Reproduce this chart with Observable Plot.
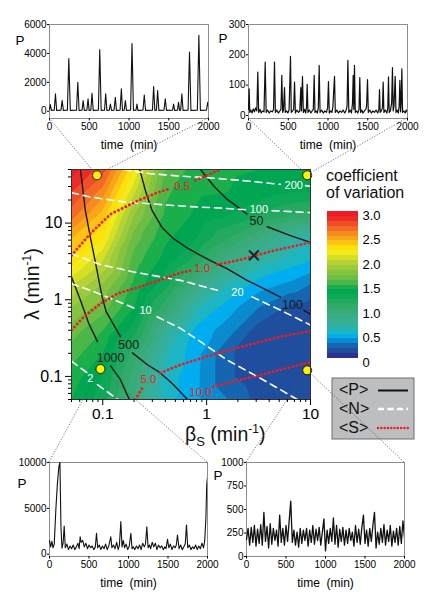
<!DOCTYPE html>
<html><head><meta charset="utf-8">
<script src="https://cdn.jsdelivr.net/npm/d3@7"></script>
<script src="https://cdn.jsdelivr.net/npm/@observablehq/plot@0.6"></script>
<style>
html,body{margin:0;padding:0;background:#fff;}
#page{position:relative;width:436px;height:611px;overflow:hidden;font-family:"Liberation Sans",Arial,sans-serif;}
</style></head><body><div id="page"></div>
<script>
// ---------- DATA ----------
// CV grid (rows: lambda, top to bottom; columns: beta_s)
const betaGrid = [0.05, 0.1, 0.2, 0.4, 0.8, 1.6, 3.2, 6.3, 10];
const lambdaGrid = [50, 25, 12.6, 6.3, 3.2, 1.6, 0.8, 0.4, 0.2, 0.1, 0.05];
const cvRows = [
  [2.95, 2.75, 2.2, 1.6, 1.45, 1.42, 1.4, 1.4, 1.4],
  [2.8, 2.55, 2.02, 1.52, 1.42, 1.4, 1.35, 1.3, 1.3],
  [2.65, 2.35, 1.8, 1.48, 1.38, 1.3, 1.2, 1.1, 1.05],
  [2.4, 2.2, 1.65, 1.42, 1.3, 1.1, 0.9, 0.7, 0.6],
  [2.25, 2.0, 1.55, 1.36, 1.15, 0.85, 0.68, 0.55, 0.5],
  [2.02, 1.8, 1.48, 1.25, 0.9, 0.62, 0.45, 0.38, 0.3],
  [1.8, 1.65, 1.4, 1.05, 0.62, 0.45, 0.3, 0.18, 0.15],
  [1.65, 1.5, 1.25, 0.75, 0.47, 0.35, 0.15, 0.12, 0.12],
  [1.55, 1.4, 1.05, 0.62, 0.43, 0.22, 0.12, 0.12, 0.12],
  [1.45, 1.3, 0.95, 0.56, 0.42, 0.22, 0.13, 0.12, 0.12],
  [1.4, 1.25, 0.9, 0.55, 0.42, 0.3, 0.16, 0.14, 0.14]
];
const cvThresholds = d3.range(0, 30).map(i => i / 10);
const bandColors = ["#2e3192","#1f4e9f","#1565b0","#0a8bd0","#00aeef","#1cb5c4","#2eb2a8","#37af95","#3aad86","#38ab78",
  "#31aa6a","#23a960","#0ea859","#00a651","#1aaf4b","#4cb748","#6dbd45","#86c440","#9ccb3b","#b5d334",
  "#d4df26","#f2ea1c","#ffe00a","#fcc214","#f9a51b","#f68b1f","#f26a25","#f04e2a","#ee2a26","#ed1c24"];
const cvTicks = [0, 0.5, 1, 1.5, 2, 2.5, 3];

// <P> isolines (segments of [beta, lambda])
const P1000 = [[[0.05,1.98],[0.061,0.986],[0.0733,0.491],[0.089,0.284]],[[0.119,0.137],[0.148,0.0906],[0.18,0.05]]];
const P500 = [[[0.061,50],[0.068,14.5],[0.076,6.52],[0.088,2.41],[0.0986,1.09],[0.108,0.695],[0.128,0.468],[0.148,0.33]],
              [[0.193,0.203],[0.269,0.142],[0.359,0.111],[0.48,0.078],[0.653,0.05]]];
const P100 = [[[0.227,50],[0.258,26.2],[0.299,14.5],[0.372,8.79],[0.483,6.21],[0.649,4.74],[0.873,3.78],[1.09,3.25],[1.57,2.54],[2.45,1.79],[3.83,1.33],[5.14,1.08]],
              [[8.63,0.731],[10,0.643]]];
const P50 = [[[0.873,50],[1.17,30.5],[1.57,20.5],[2.12,15.2],[2.45,13.1]],[[3.83,8.96],[6.41,6.85],[10,5.61]]];
// <N> isolines
const N200 = [[[0.159,50],[0.288,44.1],[0.56,41.0],[1.01,39.1],[2.12,36.1],[5.14,32.0]],[[8.96,30.8],[10,30.2]]];
const N100 = [[[0.05,24.9],[0.076,21.9],[0.159,18.9],[0.333,17.6],[0.698,16.4],[1.46,15.6],[2.37,14.9]],[[4.27,14.5],[10,13.7]]];
const N20 = [[[0.05,3.96],[0.095,2.88],[0.199,2.3],[0.56,1.79],[1.27,1.33]],[[2.74,1.09],[5.14,0.731],[10,0.468]]];
const N10 = [[[0.05,1.62],[0.076,1.33],[0.128,1.0],[0.199,0.783]],
             [[0.333,0.6],[0.56,0.423],[0.873,0.284],[1.57,0.164],[3.06,0.1],[5.14,0.0671],[7.45,0.05]]];
const N2 = [[[0.05,0.158],[0.0711,0.111]],[[0.089,0.078],[0.14,0.05]]];
// <S> isolines
const S05 = [[[0.05,3.78],[0.076,7.28],[0.119,13.1],[0.216,19.5],[0.333,24.9],[0.449,28.5]],[[0.78,36.1],[1.36,50]]];
const S10 = [[[0.05,0.403],[0.0652,0.593],[0.095,0.891],[0.138,1.2],[0.216,1.45],[0.333,1.75],[0.56,2.25],[0.724,2.41]],
             [[1.26,2.88],[2.12,3.32],[2.96,3.78],[4.44,4.38],[6.9,4.99],[10,5.61]]];
const S50 = [[[0.207,0.05],[0.241,0.0713]],[[0.359,0.111],[0.56,0.142],[1.01,0.182],[1.83,0.229],[3.06,0.276],[5.14,0.33],[10,0.391]]];
const S100 = [[[1.16,0.0734],[2.12,0.0906],[3.83,0.11],[6.41,0.132],[10,0.155]]];

const pLabels = [{beta:0.119,lambda:0.173,text:"1000"},{beta:0.178,lambda:0.257,text:"500"},{beta:6.71,lambda:0.849,text:"100"},{beta:3.02,lambda:10.6,text:"50"}];
const nLabels = [{beta:6.9,lambda:31.4,text:"200"},{beta:3.18,lambda:15.0,text:"100"},{beta:1.98,lambda:1.23,text:"20"},{beta:0.258,lambda:0.716,text:"10"},{beta:0.076,lambda:0.0933,text:"2"}];
const sLabels = [{beta:0.581,lambda:30.5,text:"0.5"},{beta:0.906,lambda:2.56,text:"1.0"},{beta:0.275,lambda:0.0906,text:"5.0"},{beta:0.873,lambda:0.0614,text:"10.0"}];

const samplePoints = [[0.088,42],[9.3,42],[0.095,0.125],[9.3,0.12]];
const crossPoint = [[2.85,3.8]];

const xMajor = [0.1, 1, 10];
const xMinor = [0.05,0.06,0.07,0.08,0.09,0.2,0.3,0.4,0.5,0.6,0.7,0.8,0.9,2,3,4,5,6,7,8,9];
const yMajor = [0.1, 1, 10];
const yMinor = [0.05,0.06,0.07,0.08,0.09,0.2,0.3,0.4,0.5,0.6,0.7,0.8,0.9,2,3,4,5,6,7,8,9,20,30,40,50];

// time series insets: [time (min), P]
const timeTicks = [0, 500, 1000, 1500, 2000];
const seriesTL = [[0,100],[10,460],[25,60],[60,80],[75,1200],[90,60],[145,80],[159,740],[175,60],[225,80],[243,3640],[262,60],[340,80],[356,2000],[372,60],[410,80],[423,740],[438,60],[470,80],[485,860],[498,60],[520,80],[535,1250],[550,60],[615,80],[632,4260],[650,60],[692,80],[707,1200],[722,60],[752,80],[766,500],[780,60],[812,80],[828,970],[842,60],[888,80],[904,1550],[918,60],[940,80],[954,740],[968,60],[1020,80],[1038,4680],[1056,60],[1088,80],[1100,500],[1112,60],[1176,80],[1192,1130],[1208,60],[1295,80],[1310,1710],[1325,60],[1345,80],[1360,1440],[1376,60],[1440,80],[1456,860],[1472,60],[1548,80],[1561,500],[1574,60],[1610,80],[1623,625],[1636,60],[1650,80],[1665,1200],[1680,60],[1743,80],[1761,4100],[1779,60],[1860,80],[1879,5260],[1898,60],[1975,80],[1990,625],[2000,300]];
const seriesTR = [[0,20],[8,88],[16,10],[30,18],[45,8],[60,22],[75,12],[90,25],[105,15],[117,143],[128,10],[145,20],[160,8],[175,15],[195,12],[210,176],[222,10],[240,18],[260,8],[280,15],[300,12],[315,20],[327,176],[338,10],[355,18],[375,8],[395,15],[408,20],[419,132],[430,10],[440,18],[453,92],[462,10],[478,15],[495,8],[510,18],[520,110],[528,195],[538,10],[555,15],[568,20],[579,110],[590,8],[610,18],[630,10],[645,15],[658,92],[666,15],[679,129],[690,10],[705,20],[720,8],[730,30],[738,103],[748,10],[765,18],[785,8],[800,15],[815,20],[826,132],[836,10],[850,15],[865,8],[878,25],[889,165],[900,10],[920,18],[940,8],[960,15],[980,10],[995,25],[1006,112],[1016,8],[1035,15],[1050,10],[1062,30],[1072,83],[1082,129],[1092,10],[1110,18],[1130,8],[1150,15],[1170,10],[1190,18],[1210,8],[1225,15],[1240,30],[1250,182],[1262,10],[1280,18],[1295,8],[1308,40],[1317,132],[1325,20],[1333,165],[1343,10],[1360,15],[1375,8],[1390,20],[1400,125],[1410,10],[1425,18],[1440,8],[1458,15],[1475,20],[1485,30],[1497,118],[1507,10],[1525,18],[1545,8],[1565,15],[1585,10],[1605,18],[1625,8],[1640,20],[1648,85],[1656,10],[1670,15],[1685,25],[1694,110],[1703,10],[1720,18],[1740,8],[1752,25],[1761,127],[1770,10],[1785,15],[1800,40],[1811,158],[1820,15],[1830,30],[1845,129],[1855,10],[1870,18],[1885,8],[1895,30],[1904,116],[1913,12],[1920,40],[1929,154],[1938,10],[1955,15],[1970,8],[1985,18],[2000,10]];
const seriesBL = [[0,1500],[15,800],[30,1400],[45,700],[60,1100],[80,4800],[100,7700],[118,9500],[132,10000],[145,3000],[158,650],[172,1200],[186,3080],[200,700],[220,1100],[240,500],[260,900],[280,600],[300,1000],[320,500],[340,800],[360,1200],[375,600],[388,1900],[400,1300],[420,1500],[440,800],[460,1200],[480,600],[500,1000],[520,700],[540,900],[560,500],[580,800],[595,2280],[610,700],[630,1000],[650,500],[670,900],[690,600],[710,1100],[730,500],[750,900],[776,1900],[790,700],[810,1000],[830,600],[850,1300],[870,500],[885,1000],[903,3550],[918,800],[935,1500],[950,700],[970,1100],[990,500],[1010,900],[1030,2280],[1045,600],[1060,800],[1080,500],[1100,900],[1120,600],[1140,1000],[1160,500],[1180,1200],[1200,800],[1215,1100],[1232,3000],[1248,700],[1265,1000],[1280,600],[1300,1300],[1320,800],[1340,1200],[1360,500],[1380,1000],[1400,700],[1420,900],[1440,500],[1460,800],[1475,600],[1494,1630],[1510,700],[1530,1100],[1550,500],[1570,900],[1590,700],[1605,1000],[1620,2100],[1640,600],[1660,1000],[1680,500],[1700,800],[1718,1100],[1734,3190],[1750,700],[1770,1000],[1790,500],[1810,800],[1830,600],[1850,1000],[1870,500],[1890,900],[1910,600],[1930,1200],[1950,700],[1965,1500],[1980,4000],[1990,7530],[2000,8400]];
const seriesBR = [[0,180],[20,300],[40,120],[60,310],[80,150],[100,330],[120,110],[140,290],[160,140],[180,340],[200,120],[220,470],[240,160],[260,320],[280,90],[300,350],[320,130],[340,300],[360,170],[380,280],[400,110],[420,440],[440,150],[460,300],[480,120],[500,330],[520,160],[540,380],[560,590],[580,150],[600,280],[620,120],[640,260],[660,100],[680,300],[700,140],[720,280],[740,170],[760,300],[780,110],[800,280],[820,150],[840,330],[860,130],[880,290],[900,170],[920,310],[940,120],[960,260],[980,400],[1000,60],[1020,280],[1040,140],[1060,300],[1080,160],[1100,410],[1120,130],[1140,330],[1160,100],[1180,290],[1200,160],[1220,310],[1240,120],[1260,280],[1280,140],[1300,300],[1320,170],[1340,260],[1360,110],[1380,330],[1400,150],[1420,290],[1440,130],[1460,310],[1480,440],[1500,140],[1520,280],[1540,110],[1560,300],[1580,160],[1600,330],[1620,470],[1640,90],[1660,260],[1680,130],[1700,300],[1720,150],[1740,340],[1760,120],[1780,280],[1800,160],[1820,330],[1840,110],[1860,270],[1880,150],[1900,300],[1920,120],[1940,320],[1960,140],[1980,380],[2000,200]];

// ---------- DRAWING ----------
const FONT = '"Liberation Sans", Arial, sans-serif';
const page = document.getElementById("page");
function place(el, left, top) {
  el.style.position = "absolute"; el.style.left = left + "px"; el.style.top = top + "px";
  page.appendChild(el); return el;
}
function segRows(name, segs) {
  return segs.flatMap((s, k) => s.map(([b, l]) => ({beta: b, lambda: l, seg: name + "-" + k})));
}
const cvCells = lambdaGrid.flatMap((l, i) => betaGrid.map((b, j) => ({beta: b, lambda: l, cv: cvRows[i][j]})));
const pRows = [...segRows("p1000", P1000), ...segRows("p500", P500), ...segRows("p100", P100), ...segRows("p50", P50)];
const nRows = [...segRows("n200", N200), ...segRows("n100", N100), ...segRows("n20", N20), ...segRows("n10", N10), ...segRows("n2", N2)];
const sRows = [...segRows("s05", S05), ...segRows("s10", S10), ...segRows("s50", S50), ...segRows("s100", S100)];
const colorScale = {type: "threshold", domain: cvThresholds.slice(1), range: bandColors};

const mainLeft = 0, mainTop = 150;
const main = Plot.plot({
  width: 330, height: 280, marginLeft: 71, marginRight: 20, marginTop: 19, marginBottom: 31,
  style: {background: "transparent", fontFamily: FONT, overflow: "visible"},
  x: {type: "log", domain: [0.05, 10]},
  y: {type: "log", domain: [0.05, 50]},
  color: colorScale,
  marks: [
    Plot.contour(cvCells, {x: "beta", y: "lambda", fill: "cv", thresholds: cvThresholds, interpolate: "barycentric", stroke: "none"}),
    Plot.line(pRows, {x: "beta", y: "lambda", z: "seg", stroke: "#1a1a1a", strokeWidth: 1.4, clip: true}),
    Plot.line(nRows, {x: "beta", y: "lambda", z: "seg", stroke: "white", strokeWidth: 1.6, strokeDasharray: "7,5", clip: true}),
    Plot.line(sRows, {x: "beta", y: "lambda", z: "seg", stroke: "#ed1c24", strokeWidth: 2.8, strokeDasharray: "0.1,4", strokeLinecap: "round", clip: true}),
    Plot.text(pLabels, {x: "beta", y: "lambda", text: "text", fill: "#1a1a1a", fontSize: 12.5}),
    Plot.text(nLabels, {x: "beta", y: "lambda", text: "text", fill: "white", fontSize: 11}),
    Plot.text(sLabels, {x: "beta", y: "lambda", text: "text", fill: "#ed1c24", fontSize: 11.5}),
    Plot.dot(crossPoint, {x: d => d[0], y: d => d[1], symbol: "times", r: 4.5, stroke: "#222", strokeWidth: 2}),
    Plot.dot(samplePoints, {x: d => d[0], y: d => d[1], r: 4.5, fill: "#fff200", stroke: "#000", strokeWidth: 0.8}),
    Plot.frame({stroke: "#333"}),
    Plot.axisX({ticks: xMinor, tickSize: 3, tickFormat: () => "", label: null}),
    Plot.axisX({ticks: xMajor, tickSize: 6, tickPadding: 2, fontSize: 15.5, tickFormat: d => String(d), label: null}),
    Plot.axisY({ticks: yMinor, tickSize: 3, tickFormat: () => "", label: null}),
    Plot.axisY({ticks: yMajor, tickSize: 6, tickPadding: 3, fontSize: 16, tickFormat: d => String(d), label: null})
  ]
});
place(main, mainLeft, mainTop);

// colour bar
const cbar = Plot.plot({
  width: 110, height: 175, marginLeft: 7, marginRight: 72, marginTop: 11, marginBottom: 17,
  style: {background: "transparent", fontFamily: FONT, overflow: "visible"},
  x: {domain: [0, 1], axis: null},
  y: {domain: [0, 3]},
  color: colorScale,
  marks: [
    Plot.rect(cvThresholds, {x1: 0, x2: 1, y1: d => d, y2: d => d + 0.1, fill: d => d, shapeRendering: "crispEdges"}),
    Plot.axisY({anchor: "right", ticks: cvTicks, tickSize: 0, tickPadding: 4, fontSize: 13, dy: 4, tickFormat: d => d === 0 ? "0" : d.toFixed(1), label: null})
  ]
});
place(cbar, 320, 200);

function inset(o) {
  const p = Plot.plot({
    width: o.w, height: o.h, marginLeft: o.ml, marginRight: o.mr, marginTop: o.mt, marginBottom: o.mb,
    style: {background: "transparent", fontFamily: FONT, overflow: "visible"},
    x: {domain: [0, 2000]}, y: {domain: o.yDomain},
    marks: [
      Plot.frame({stroke: "#8c8c8c"}),
      Plot.line(o.data, {x: d => d[0], y: d => d[1], stroke: "#111", strokeWidth: o.sw, clip: true}),
      Plot.axisX({ticks: timeTicks, tickSize: 2.5, tickPadding: 1.5, fontSize: 10, tickFormat: d3.format("d"), label: null}),
      Plot.axisY({ticks: o.yTicks, tickSize: 2, tickPadding: 1, fontSize: 10, tickFormat: d3.format("d"), label: null}),
      Plot.text(["P"], {text: d => d, frameAnchor: "top-left", dx: o.pdx, dy: o.pdy, fontSize: 13.5}),
      Plot.text(["time\u00a0 (min)"], {text: d => d, frameAnchor: "bottom", dy: 30, fontSize: 12})
    ]
  });
  place(p, o.left, o.top);
  return {plot: p, left: o.left, top: o.top};
}
const tl = inset({data: seriesTL, sw: 1.1, yDomain: [-500, 6000], yTicks: [0, 2000, 4000, 6000], left: 0, top: 0, w: 225, h: 155, ml: 49, mr: 17, mt: 24, mb: 37, pdx: -34, pdy: 11});
const tr = inset({data: seriesTR, sw: 1.2, yDomain: [-10, 300], yTicks: [0, 100, 200, 300], left: 218, top: 0, w: 218, h: 155, ml: 30, mr: 29, mt: 24, mb: 37, pdx: -30, pdy: 9});
const bl = inset({data: seriesBL, sw: 1.1, yDomain: [-250, 10000], yTicks: [0, 5000, 10000], left: 0, top: 440, w: 225, h: 171, ml: 49, mr: 18, mt: 22, mb: 55, pdx: -32, pdy: 16});
const br = inset({data: seriesBR, sw: 1.3, yDomain: [0, 1000], yTicks: [0, 250, 500, 750, 1000], left: 218, top: 440, w: 218, h: 171, ml: 28, mr: 32, mt: 22, mb: 55, pdx: -33, pdy: 8});

// ---------- OVERLAY: titles, legend, connectors ----------
function fn(s) {
  if (s.apply) return v => s.apply(v);
  return (s.type === "log" ? d3.scaleLog() : d3.scaleLinear()).domain(s.domain).range(s.range);
}
const ov = d3.create("svg").attr("width", 436).attr("height", 611)
  .style("position", "absolute").style("left", "0px").style("top", "0px")
  .style("font-family", FONT).style("pointer-events", "none");

// axis titles
const yt = ov.append("text").attr("transform", "translate(39,284) rotate(-90)").attr("text-anchor", "middle").attr("font-size", 20).attr("fill", "#111");
yt.append("tspan").text("λ (min");
yt.append("tspan").attr("dy", -8).attr("font-size", 12).text("-1");
yt.append("tspan").attr("dy", 8).text(")");
const xt = ov.append("text").attr("x", 185).attr("y", 441).attr("font-size", 19.5).attr("fill", "#111");
xt.append("tspan").text("β");
xt.append("tspan").attr("dy", 5).attr("font-size", 13).text("S");
xt.append("tspan").attr("dy", -5).text("\u00a0(min");
xt.append("tspan").attr("dy", -8).attr("font-size", 12).text("-1");
xt.append("tspan").attr("dy", 8).text(")");

// colour bar title
ov.append("text").attr("x", 326).attr("y", 181).attr("font-size", 16).attr("fill", "#111").text("coefficient");
ov.append("text").attr("x", 326).attr("y", 198).attr("font-size", 16).attr("fill", "#111").text("of variation");

// line legend
const lg = ov.append("g");
lg.append("rect").attr("x", 332).attr("y", 378).attr("width", 82).attr("height", 61).attr("fill", "#bcbec0").attr("stroke", "#6d6e71");
const legendItems = [
  {t: "<P>", y: 395, ly: 390.5, stroke: "#111", dash: null, w: 2, cap: "butt"},
  {t: "<N>", y: 414, ly: 409, stroke: "#fff", dash: "6,3.5", w: 2.5, cap: "butt"},
  {t: "<S>", y: 432.5, ly: 428, stroke: "#ed1c24", dash: "0.1,3.2", w: 2.4, cap: "round"}
];
for (const it of legendItems) {
  lg.append("text").attr("x", 339).attr("y", it.y).attr("font-size", 16).attr("fill", "#111").text(it.t);
  lg.append("line").attr("x1", 378).attr("x2", 408).attr("y1", it.ly).attr("y2", it.ly)
    .attr("stroke", it.stroke).attr("stroke-width", it.w).attr("stroke-dasharray", it.dash).attr("stroke-linecap", it.cap);
}

// connectors from sample points to inset frames
const mx = fn(main.scale("x")), my = fn(main.scale("y"));
function corners(ins, which) {
  const sx = ins.plot.scale("x").range, sy = ins.plot.scale("y").range;
  const y = which === "bottom" ? Math.max(...sy) : Math.min(...sy);
  return [[ins.left + Math.min(...sx), ins.top + y], [ins.left + Math.max(...sx), ins.top + y]];
}
const targets = [[tl, "bottom"], [tr, "bottom"], [bl, "top"], [br, "top"]];
samplePoints.forEach((pt, i) => {
  const px = mainLeft + mx(pt[0]), py = mainTop + my(pt[1]);
  for (const c of corners(targets[i][0], targets[i][1])) {
    const dx = px - c[0], dy = py - c[1], len = Math.hypot(dx, dy), k = (len - 4.5) / len;
    ov.append("line").attr("x1", c[0]).attr("y1", c[1]).attr("x2", c[0] + dx * k).attr("y2", c[1] + dy * k)
      .attr("stroke", "#555").attr("stroke-width", 0.8).attr("stroke-dasharray", "1.2,1.6");
  }
});
page.appendChild(ov.node());
</script></body></html>
